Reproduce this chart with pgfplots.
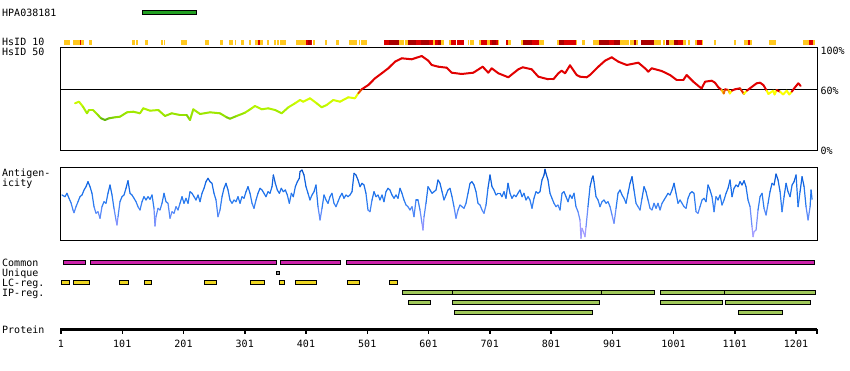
\documentclass[border=0pt]{standalone}
\usepackage{pgfplots}
\pgfplotsset{compat=1.18}
\usepackage{fontspec}
\setmainfont{DejaVu Sans Mono}
\definecolor{hsor}{RGB}{255,200,30}
\definecolor{hsred}{RGB}{220,0,0}
\definecolor{hsdk}{RGB}{170,0,0}
\definecolor{cmag}{RGB}{204,34,170}
\definecolor{lcy}{RGB}{238,214,34}
\definecolor{ipg}{RGB}{160,200,90}
\definecolor{hpag}{RGB}{34,160,34}
\definecolor{ugray}{RGB}{150,150,150}
\pgfplotsset{
  colormap={hsid}{rgb255(30pt)=(85,170,20) rgb255(33pt)=(140,220,0) rgb255(42pt)=(180,245,0) rgb255(52pt)=(220,255,0) rgb255(58pt)=(255,255,0) rgb255(59pt)=(225,0,0) rgb255(100pt)=(225,0,0)},
  colormap={antig}{rgb255(0pt)=(175,165,255) rgb255(14pt)=(150,150,255) rgb255(26pt)=(95,140,250) rgb255(38pt)=(45,125,240) rgb255(55pt)=(20,105,230) rgb255(72pt)=(5,75,195)},
  panel/.style={scale only axis, width=757pt, xmin=-0.63, xmax=1235.3, anchor=south west, xtick=\empty, ytick=\empty},
}
\newcommand\hs[3]{\addplot[draw=#1, line width=5pt] coordinates {(#2,42.5)(#3,42.5)};}
\newcommand\trk[5]{\addplot[draw=black, line width=0.8pt, fill=#1] coordinates {(#2,#4)(#3,#4)(#3,#5)(#2,#5)} --cycle;}
\begin{document}
\begin{tikzpicture}
\path[use as bounding box] (0,0) rectangle (850pt,370pt);
% ---------- base axis: strips and tracks (y in rows from top) ----------
\begin{axis}[panel, at={(60pt,0pt)}, height=370pt, ymin=0, ymax=370, y dir=reverse, axis lines=none, clip=false]
\trk{hpag}{133.2}{221.4}{10.5}{14.5}
% HsID 10 strip
\hs{hsor}{5.9}{15.7}\hs{hsor}{20.6}{32.0}\hs{hsor}{33.7}{38.6}\hs{hsor}{46.7}{51.6}
\hs{hsor}{116.9}{121.8}\hs{hsor}{123.4}{126.7}\hs{hsor}{138.1}{143.0}\hs{hsor}{164.3}{167.5}
\hs{hsor}{169.2}{170.8}\hs{hsor}{196.9}{206.7}\hs{hsor}{236.1}{242.6}\hs{hsor}{260.6}{265.5}
\hs{hsor}{275.3}{281.8}\hs{hsor}{285.1}{286.7}\hs{hsor}{294.9}{299.8}\hs{hsor}{308.0}{311.2}
\hs{hsor}{317.7}{322.6}\hs{hsor}{325.9}{330.8}\hs{hsor}{337.3}{340.6}\hs{hsor}{348.8}{352.0}
\hs{hsor}{353.7}{356.9}\hs{hsor}{358.6}{368.3}\hs{hsor}{384.7}{401.0}\hs{hsor}{412.5}{415.8}
\hs{hsor}{432.1}{435.3}\hs{hsor}{450.0}{454.9}\hs{hsor}{471.2}{484.3}\hs{hsor}{487.5}{489.2}
\hs{hsor}{490.8}{500.6}\hs{hsor}{552.9}{561.0}\hs{hsor}{562.7}{567.5}\hs{hsor}{608.4}{611.7}
\hs{hsor}{621.4}{626.3}\hs{hsor}{634.5}{637.8}\hs{hsor}{665.5}{667.2}\hs{hsor}{668.8}{675.3}
\hs{hsor}{683.5}{686.7}\hs{hsor}{696.5}{701.4}\hs{hsor}{714.5}{716.1}\hs{hsor}{730.8}{735.7}
\hs{hsor}{752.1}{755.3}\hs{hsor}{781.4}{789.6}\hs{hsor}{810.8}{814.1}\hs{hsor}{841.8}{843.5}
\hs{hsor}{851.6}{856.5}\hs{hsor}{869.6}{879.4}\hs{hsor}{913.7}{928.4}\hs{hsor}{930.0}{936.5}
\hs{hsor}{939.8}{943.1}\hs{hsor}{969.2}{980.6}\hs{hsor}{983.9}{987.2}\hs{hsor}{993.7}{1001.9}
\hs{hsor}{1016.6}{1021.5}\hs{hsor}{1024.7}{1028.0}\hs{hsor}{1036.1}{1039.4}\hs{hsor}{1047.6}{1049.2}
\hs{hsor}{1066.8}{1070.1}\hs{hsor}{1099.5}{1102.7}\hs{hsor}{1115.8}{1122.4}\hs{hsor}{1125.6}{1128.9}
\hs{hsor}{1156.9}{1168.4}\hs{hsor}{1212.4}{1222.2}\hs{hsor}{1228.8}{1232.0}
\hs{hsred}{32.0}{33.7}\hs{hsred}{322.6}{325.9}\hs{hsred}{401.0}{404.3}\hs{hsred}{409.3}{410.9}
\hs{hsred}{528.4}{536.5}\hs{hsred}{580.6}{588.8}\hs{hsred}{601.9}{608.4}\hs{hsred}{611.7}{616.5}
\hs{hsred}{637.8}{645.9}\hs{hsred}{647.6}{659.0}\hs{hsred}{686.7}{696.5}\hs{hsred}{701.4}{704.7}
\hs{hsred}{711.2}{714.5}\hs{hsred}{727.6}{730.8}\hs{hsred}{770.0}{781.4}\hs{hsred}{822.2}{841.8}
\hs{hsred}{895.7}{903.9}\hs{hsred}{1008.4}{1016.6}\hs{hsred}{1039.4}{1047.6}\hs{hsred}{1122.4}{1125.6}
\hs{hsred}{1222.2}{1228.8}
\hs{hsdk}{404.3}{409.3}\hs{hsdk}{536.5}{552.9}\hs{hsdk}{567.5}{580.6}\hs{hsdk}{588.8}{601.9}
\hs{hsdk}{616.5}{621.4}\hs{hsdk}{704.7}{711.2}\hs{hsdk}{755.3}{770.0}\hs{hsdk}{814.1}{822.2}
\hs{hsdk}{879.4}{895.7}\hs{hsdk}{903.9}{913.7}\hs{hsdk}{936.5}{939.8}\hs{hsdk}{948.0}{969.2}
\hs{hsdk}{988.8}{993.7}\hs{hsdk}{1001.9}{1008.4}
% Common
\trk{cmag}{4.8}{41.3}{260.5}{264.5}\trk{cmag}{48.8}{352.0}{260.5}{264.5}
\trk{cmag}{359.0}{457.0}{260.5}{264.5}\trk{cmag}{466.8}{1231.6}{260.5}{264.5}
% Unique
\trk{ugray}{352.5}{357.4}{271}{274}
% LC-reg.
\trk{lcy}{1}{14.6}{280.5}{284.5}\trk{lcy}{21.1}{47.2}{280.5}{284.5}\trk{lcy}{96.2}{111.5}{280.5}{284.5}
\trk{lcy}{137.0}{149.1}{280.5}{284.5}\trk{lcy}{235.0}{255.2}{280.5}{284.5}\trk{lcy}{310.1}{333.6}{280.5}{284.5}
\trk{lcy}{357.4}{365.6}{280.5}{284.5}\trk{lcy}{383.5}{418.5}{280.5}{284.5}\trk{lcy}{468.4}{488.7}{280.5}{284.5}
\trk{lcy}{537.0}{550.7}{280.5}{284.5}
% IP-reg.
\trk{ipg}{558.2}{639.9}{290.5}{294.5}\trk{ipg}{639.9}{883.8}{290.5}{294.5}\trk{ipg}{883.8}{970.3}{290.5}{294.5}
\trk{ipg}{979.5}{1084.6}{290.5}{294.5}\trk{ipg}{1084.6}{1233.2}{290.5}{294.5}
\trk{ipg}{568.0}{604.6}{300.5}{304.5}\trk{ipg}{639.9}{880.5}{300.5}{304.5}
\trk{ipg}{979.5}{1081.4}{300.5}{304.5}\trk{ipg}{1085.6}{1225.0}{300.5}{304.5}
\trk{ipg}{643.1}{869.1}{310.5}{314.5}\trk{ipg}{1106.8}{1179.3}{310.5}{314.5}
\end{axis}
% ---------- HsID 50 ----------
\begin{axis}[panel, at={(60pt,220pt)}, height=102pt, ymin=0, ymax=102,
  axis line style={line width=1pt}, ytick={0,60,100}, yticklabels={0\%,60\%,100\%},
  yticklabel pos=right, major tick length=0pt, yticklabel style={yshift=-0.8pt},
  colormap name=hsid, point meta min=30, point meta max=100]
\addplot[black, line width=1pt] coordinates {(-0.63,60)(1235.3,60)};
\addplot[mesh, line width=2pt, line cap=round, point meta=y] coordinates {
(23.9,46.7)(30.4,48.3)(36.9,43.3)(43.4,36.7)(46.7,40)(53.2,40)(59.8,36)(66.3,31.7)(72.8,30)(79.4,31.7)
(89.2,32.7)(97.3,33.3)(108.8,37.7)(119,38.3)(130,36.7)(135.4,41.7)(146.3,39.3)(159.9,40)(170.8,34)(181.7,36.7)
(195.3,35)(206.2,35)(211.6,30)(217,40.7)(228,36)(244.3,37.7)(260.6,36.7)(271.5,32.7)(276.9,31.3)(287.8,34)
(301.4,37.3)(312.3,41.7)(317.7,44)(328.7,40.7)(339.5,41.7)(350.4,40)(361.3,36.7)(372.2,42.7)(383.1,46.7)(391.3,50)
(396.6,48.3)(407.5,51.7)(418.4,46.7)(426.6,42.7)(434.7,45)(445.6,50)(456.5,48.3)(470.1,52.7)(481,51.7)(486.4,56.7)
(492,60.7)(502.8,65)(513.7,71.7)(524.6,76.7)(535.4,81.7)(546.3,88.3)(557.3,91.7)(573.6,90.7)(589.9,94)(600.7,89.3)
(606.2,85)(617,83.3)(630.7,82.3)(638.9,77.3)(655.2,76)(674.2,77.3)(689.5,83.3)(698.6,77.3)(704.2,81.7)(715,76.7)
(731.3,72.7)(747.7,80.7)(754.8,82.7)(769.5,80.7)(780.3,73.3)(796.6,70.7)(804.8,70.7)(813,76.7)(818.4,79.3)(824,76.7)
(832,84.7)(842.9,75)(848.4,73.3)(859.2,72.7)(864.7,75)(872.8,80)(878.3,83.3)(889.2,89.3)(900.1,92.7)(911,88.3)
(924.6,85)(943.6,87.3)(954.5,81.7)(959.9,78.3)(965.4,81.7)(981.7,79)(995.3,75)(1006.2,70)(1017.1,70)(1022.5,75)
(1033.3,68.3)(1044.3,62.7)(1047,61.7)(1052.5,68.3)(1063.4,69.3)(1068.8,67.3)(1074.2,62.7)(1079.7,60)(1083,56.5)(1085.1,60.7)
(1090.5,60)(1093,56.5)(1096,59.3)(1101.4,60.7)(1109.6,61.7)(1116,56)(1120.5,59.3)(1125.9,61.7)(1136.8,66.7)(1142.3,67.3)
(1147.7,65)(1153.2,59.3)(1156,56)(1164,59.3)(1166,55.5)(1169.5,60)(1174.9,58.3)(1180,55.5)(1185.8,59.3)(1190,55.5)
(1194,58.3)(1199.4,62.7)(1204.8,66.7)(1208.7,64)};
\end{axis}
% ---------- Antigenicity ----------
\begin{axis}[panel, at={(60pt,130pt)}, height=72pt, ymin=0, ymax=72,
  axis line style={line width=1pt}, colormap name=antig, point meta min=0, point meta max=72]
\addplot[mesh, line width=1.2pt, line cap=round, point meta=y] coordinates {
(2.6,45)(7.5,43.3)(10.8,46.7)(14.1,41.7)(17.3,37.3)(20.6,30)(22.2,27.3)(25.5,33.3)(28.8,38.3)(32,43.3)
(35.3,45)(38.6,50)(41.8,53.3)(45.1,58.3)(48.4,53.3)(51.6,46.7)(54.9,33.3)(58.2,26.7)(61.4,28.3)(64.7,21.7)
(67.9,33.3)(71.2,38.3)(74.5,36.7)(77.7,46.7)(81,55)(84.3,45)(87.5,31.7)(90.8,20)(92.4,15)(94.1,23.3)
(97.3,38.3)(100.6,43.3)(103.9,45)(107.1,51.7)(110.4,59.3)(113.7,46.7)(116.9,45)(120.2,41.7)(123.5,38.3)(126.7,33.3)
(130,30)(133.3,38.3)(136.5,43.3)(139.8,40)(143.1,43.3)(146.3,40.7)(149.6,45)(152.8,31.7)(154.5,14)(156.1,23.3)
(159.4,31.7)(162.6,30)(165.9,36.7)(169.2,46.7)(172.4,38.3)(175.7,36.7)(179,21.7)(182.2,28.3)(185.5,26.7)(188.8,33.3)
(192,30)(195.3,36.7)(198.6,43.3)(201.8,36.7)(205.1,41.7)(208.4,36.7)(211.6,48.3)(214.9,46.7)(218.2,43.3)(221.4,40)
(224.7,45)(228,38.3)(231.2,46.7)(234.5,51.7)(237.7,58.3)(241,61.7)(244.3,58.3)(247.5,56.7)(250.8,46.7)(254.1,40)
(257.3,23.3)(260.6,30)(263.9,43.3)(267.1,51.7)(270.4,56.7)(273.7,50)(276.9,40)(280.2,36.7)(283.5,40)(286.7,38.3)
(290,43.3)(293.3,36.7)(296.5,43.3)(299.8,41.7)(303.1,48.3)(306.3,53.3)(309.6,46.7)(312.9,36.7)(316.1,31.7)(319.4,40)
(322.6,46.7)(325.9,51.7)(329.2,50)(332.4,46.7)(335.7,43.3)(339,48.3)(342.2,46.7)(345.5,53.3)(347.7,65)(350.9,56.7)
(354.2,50)(357.5,46.7)(360.7,51.7)(364,48.3)(367.3,50)(370.5,45)(373.8,36.7)(377.1,46.7)(380.3,43.3)(383.6,53.3)
(386.9,58.3)(390.1,61.7)(391.2,68.3)(394.5,70)(397.7,65)(401,53.3)(404.3,46.7)(407.5,40)(410.8,45)(414.1,48.3)
(417.3,55)(420.6,33.3)(423.9,20)(427.1,31.7)(430.4,45)(433.7,40)(436.9,36.7)(440.2,43.3)(443.4,46.7)(446.7,36.7)
(450,33.3)(453.2,38.3)(456.5,43.3)(459.8,46.7)(463,41.7)(466.3,45)(469.6,43.3)(472.8,45)(476.1,48.3)(479.4,66.7)
(482.6,65)(485.9,60)(489.2,53.3)(492.4,56.7)(495.7,55)(498.9,46.7)(502.2,30)(505.5,28.3)(508.8,40)(512,48.3)
(515.3,43.3)(518.6,45)(521.8,40)(525.1,45)(528.3,38.3)(531.6,48.3)(534.9,51.7)(538.1,50)(541.4,45)(544.7,41.7)
(547.9,45)(551.2,41.7)(554.5,51.7)(557.7,46.7)(561,40)(564.3,35)(567.5,33.3)(570.8,30)(574.1,33.3)(577.3,23.3)
(580.6,40)(583.9,40)(587.1,30)(590.4,16.7)(592,10)(593.7,23.3)(596.9,36.7)(600.2,53.3)(603.5,50)(606.7,46.7)
(610,48.3)(613.3,50)(616.5,60)(619.8,56.7)(623.1,48.3)(626.3,40)(629.6,45)(632.8,50)(636.1,51.7)(639.4,43.3)
(642.6,33.3)(645.9,21.7)(649.2,30)(652.4,35)(655.7,33.3)(659,31.7)(662.2,36.7)(665.5,46.7)(668.8,56.7)(672,58.3)
(675.3,55)(678.6,48.3)(681.8,36.7)(685.1,35)(688.4,30)(691.6,26.7)(694.9,35)(698.1,51.7)(701.4,65)(704.7,53.3)
(707.9,50)(711.2,45)(714.5,46.7)(717.7,46.7)(721,43.3)(724.3,48.3)(727.5,41.7)(730.8,56.7)(734.1,46.7)(737.3,41.7)
(740.6,45)(743.9,43.3)(747.1,46.7)(750.4,50)(753.7,43.3)(756.9,46.7)(760.2,40)(763.5,43.3)(766.7,40)(770,31.7)
(773.2,41.7)(776.5,48.3)(779.8,46.7)(783,48.3)(786.3,60)(789.6,65)(791.2,70.7)(792.8,66.7)(796.1,60)(799.4,46.7)
(802.6,41.7)(805.9,36.7)(809.2,33.3)(812.4,35)(815.7,30)(819,46.7)(822.2,48.3)(825.5,43.3)(828.8,38.3)(832,45)
(835.3,41.7)(838.6,46.7)(841.8,33.3)(845.1,28.3)(848.3,20)(850,1.7)(851.6,11.7)(854.9,6.7)(856.5,3.3)(858.2,13.3)
(861.4,33.3)(864.7,53.3)(868,61.7)(869.6,64)(871.2,58.3)(874.5,43.3)(877.8,40)(881,33.3)(884.3,38.3)(887.6,40)
(890.8,36.7)(894.1,38.3)(897.4,33.3)(900.6,25)(903.9,16.7)(907.2,31.7)(910.4,46.7)(913.7,50)(917,45)(920.2,41.7)
(923.5,36.7)(926.7,46.7)(930,56.7)(933.3,63.3)(936.5,50)(939.8,36.7)(943.1,33.3)(946.3,30)(949.6,41.7)(952.9,53.3)
(956.1,48.3)(959.4,40)(962.7,31.7)(965.9,30)(969.2,36.7)(972.5,31.7)(975.7,36.7)(979,30)(982.3,36.7)(985.5,40)
(988.8,43.3)(992.1,46.7)(995.3,45)(998.6,50)(1001.9,56.7)(1005.1,46.7)(1008.4,36.7)(1011.7,40)(1014.9,36.7)(1018.2,33.3)
(1021.5,31.7)(1024.7,41.7)(1028,46.7)(1031.2,48.3)(1034.5,46.7)(1037.8,28.3)(1041,26.7)(1044.3,33.3)(1047.6,40)(1050.8,41.7)
(1054.1,38.3)(1057.4,55)(1060.6,50)(1063.9,43.3)(1067.2,28.3)(1070.4,43.3)(1073.7,40)(1077,45)(1080.2,35)(1083.5,40)
(1086.8,46.7)(1090,51.7)(1093.3,60)(1096.6,43.3)(1099.8,51.7)(1103.1,55)(1106.4,53.3)(1109.6,58.3)(1112.9,55)(1116.2,59.3)
(1119.4,53.3)(1122.7,40)(1126,33.3)(1129.2,13.3)(1130.9,3.3)(1132.5,8.3)(1135.8,10)(1139,30)(1142.3,43.3)(1145.6,46.7)
(1148.8,31.7)(1152.1,25)(1155.4,36.7)(1158.6,48.3)(1161.9,56.7)(1165.2,55)(1168.4,66)(1171.7,60)(1175,48.3)(1178.2,28.3)
(1181.5,43.3)(1184.8,56.7)(1188,48.3)(1191.3,43.3)(1194.6,55)(1197.8,58.3)(1201.1,65)(1204.4,33.3)(1207.6,48.3)(1210.9,63.3)
(1214.2,53.3)(1217.4,33.3)(1220.7,20)(1224,33.3)(1225.6,50)(1227.2,40.7)};
\end{axis}
% ---------- Protein axis ----------
\begin{axis}[scale only axis, width=757pt, height=10pt, xmin=-0.63, xmax=1235.3, ymin=0, ymax=1,
  at={(60pt,40.7pt)}, anchor=south west, axis x line=bottom, axis y line=none,
  axis line style={-, line width=3pt}, ytick=\empty,
  xtick={1,101,201,301,401,501,601,701,801,901,1001,1101,1201},
  xticklabels={1,101,201,301,401,501,601,701,801,901,1001,1101,1201},
  extra x ticks={1235}, extra x tick labels={},
  tick align=outside, major tick length=4.5pt, tick style={black, line width=1.5pt},
  xticklabel style={yshift=-2.5pt}]
\end{axis}
% ---------- labels ----------
\node[anchor=base west, inner sep=0] at (2pt,353.7pt) {HPA038181};
\node[anchor=base west, inner sep=0] at (2pt,324pt) {HsID 10};
\node[anchor=base west, inner sep=0] at (2pt,314pt) {HsID 50};
\node[anchor=base west, inner sep=0] at (2pt,194pt) {Antigen-};
\node[anchor=base west, inner sep=0] at (2pt,184pt) {icity};
\node[anchor=base west, inner sep=0] at (2pt,104pt) {Common};
\node[anchor=base west, inner sep=0] at (2pt,94pt) {Unique};
\node[anchor=base west, inner sep=0] at (2pt,84pt) {LC-reg.};
\node[anchor=base west, inner sep=0] at (2pt,74pt) {IP-reg.};
\node[anchor=base west, inner sep=0] at (2pt,36.7pt) {Protein};
\end{tikzpicture}
\end{document}
